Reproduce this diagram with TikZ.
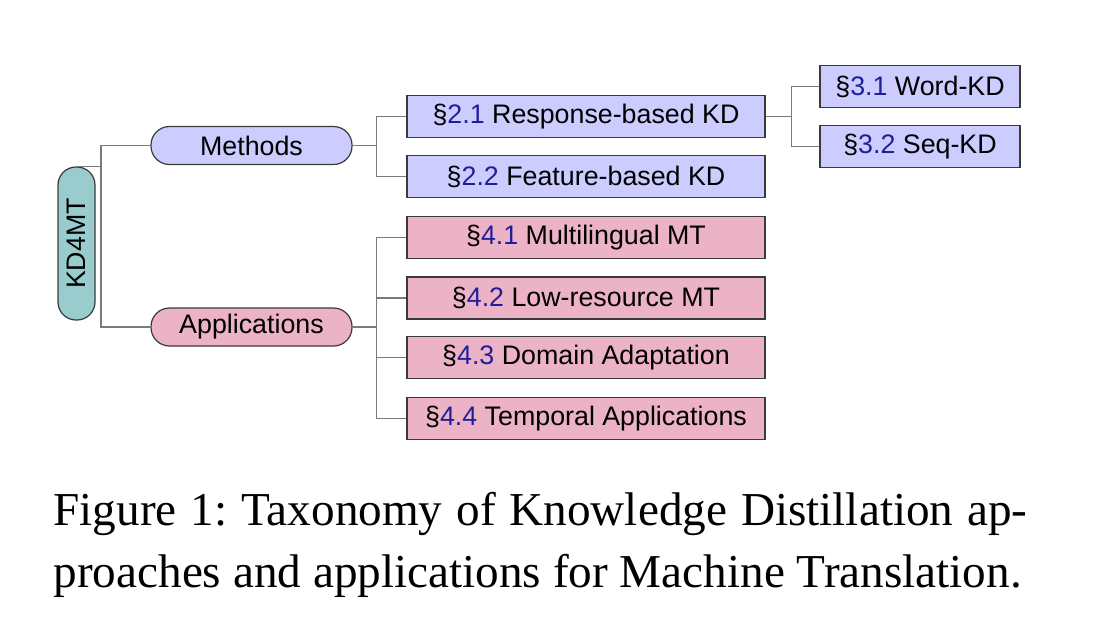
\documentclass[tikz,border=0pt]{standalone}
\usepackage{fontspec}
\setmainfont{Liberation Serif}
\newfontfamily\diagfont{Liberation Sans}
\definecolor{lav}{HTML}{CCCCFF}
\definecolor{pinkb}{HTML}{ECB2C5}
\definecolor{tealb}{HTML}{99CCCC}
\definecolor{numblue}{HTML}{1F1F99}
\definecolor{edgegray}{HTML}{7A7A7A}
\definecolor{bordergray}{HTML}{3A3A3A}
\newcommand\secnum[1]{§\textcolor{numblue}{#1}}
\frenchspacing
\begin{document}
\begin{tikzpicture}[x=1pt,y=-1pt,
  every node/.style={font=\diagfont\fontsize{26.8}{30}\selectfont, inner sep=0pt, draw=bordergray, line width=1.2pt},
  pill/.style={rounded corners=18.5pt, minimum width=201pt, minimum height=38pt},
  lvtwo/.style={rectangle, minimum width=358pt, minimum height=42pt},
  lvthree/.style={rectangle, minimum width=200pt, minimum height=42pt},
  conn/.style={draw=edgegray, line width=1.6pt}]
\useasboundingbox (0,0) rectangle (1115,640);
\node[fill=tealb, rounded corners=18pt, minimum width=37pt, minimum height=153pt] (root) at (76.5,243.5) {\rotatebox{90}{KD4MT}};
\node[pill, fill=lav] (meth) at (251.5,145.5) {Methods};
\node[pill, fill=pinkb] (appl) at (251.5,327) {Applications};
\node[lvtwo, fill=lav] (r21) at (586,116.5) {\secnum{2.1} Response-based KD};
\node[lvtwo, fill=lav] (r22) at (586,176.5) {\secnum{2.2} Feature-based KD};
\node[lvthree, fill=lav] (w31) at (920,86.5) {\secnum{3.1} Word-KD};
\node[lvthree, fill=lav] (s32) at (920,146.5) {\secnum{3.2} Seq-KD};
\node[lvtwo, fill=pinkb] (a41) at (586,237.5) {\secnum{4.1} Multilingual MT};
\node[lvtwo, fill=pinkb] (a42) at (586,298) {\secnum{4.2} Low-resource MT};
\node[lvtwo, fill=pinkb] (a43) at (586,357.5) {\secnum{4.3} Domain Adaptation};
\node[lvtwo, fill=pinkb] (a44) at (586,418.5) {\secnum{4.4} Temporal Applications};
\draw[conn] (root.north) -- ++(24.5,0) coordinate (rf) |- (meth.west);
\draw[conn] (rf) |- (appl.west);
\draw[conn] (meth.east) -- ++(24,0) coordinate (mf) |- (r21.west);
\draw[conn] (mf) |- (r22.west);
\draw[conn] (r21.east) -- ++(26,0) coordinate (rsf) |- (w31.west);
\draw[conn] (rsf) |- (s32.west);
\draw[conn] (appl.east) -- ++(24,0) coordinate (af) |- (a41.west);
\draw[conn] (af) |- (a42.west);
\draw[conn] (af) |- (a43.west);
\draw[conn] (af) |- (a44.west);
\node[draw=none, anchor=base west, font=\fontsize{47.2}{56}\selectfont] (cap1) at (53,525) {\makebox[974pt][s]{Figure 1: Taxonomy of Knowledge Distillation ap-}};
\node[draw=none, anchor=base west, font=\fontsize{47.2}{56}\selectfont] (cap2) at (53,587) {proaches and applications for Machine Translation.};
\end{tikzpicture}
\end{document}
